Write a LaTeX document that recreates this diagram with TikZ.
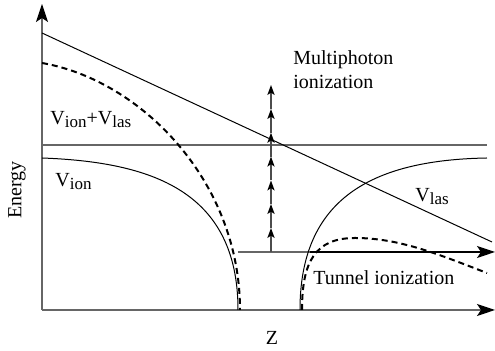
\documentclass[tikz,border=0pt]{standalone}
\usepackage{fontspec}
\setmainfont{Liberation Serif}
\usetikzlibrary{arrows.meta}
\newcommand{\vsub}[1]{\raisebox{-0.3ex}{\fontsize{8.5}{9}\selectfont #1}}

\begin{document}
\begin{tikzpicture}[
    x=0.5pt, y=-0.5pt, >=Stealth, font=\fontsize{10}{12}\selectfont,
    axis/.style={draw=black!60, line width=0.6pt},
    bigtip/.style={-{Stealth[length=9pt,width=6pt,inset=2pt,color=black]}},
    pot/.style={line width=0.5pt},
    total/.style={line width=1pt, dash pattern=on 3pt off 2pt},
    photon/.style={-{Stealth[length=5pt,width=3.6pt,inset=1.2pt,color=black]}, draw=black!70, line width=0.7pt},
    lbl/.style={inner sep=0pt, anchor=base west}
]
\useasboundingbox (0,0) rectangle (495,351);

% Axes
\coordinate (O)    at (42,310);
\coordinate (ytip) at (42,4);
\coordinate (xtip) at (495,310);
\draw[axis, bigtip] (O) -- (ytip);
\draw[axis, bigtip] (O) -- (xtip);

% Ionization threshold and ground level
\coordinate (thL) at (42,145);
\coordinate (thR) at (487,145);
\draw[axis] (thL) -- (thR);
\coordinate (gL) at (238,252);
\coordinate (gM) at (310,252);
\coordinate (gR) at (495,252);
\draw[axis] (gL) -- (gM);
\draw[pot, line width=0.6pt, bigtip] (gM) -- (gR);

% Laser potential
\coordinate (las0) at (42,33);
\coordinate (las1) at (492,242);
\draw[pot] (las0) -- (las1);

% Coulomb potential of the ion
\draw[pot] (42,158) .. controls (150,162) and (238,190) .. (238,310);
\draw[pot] (300,310) .. controls (300,200) and (370,160) .. (487,158);

% Sum of both potentials
\draw[total] (42,63) .. controls (140,80) and (240,180) .. (240,310);
\draw[total] (302,310) .. controls (302,262) and (315,238) .. (355,238)
                       .. controls (400,238) and (440,255) .. (487,273);

% Multiphoton steps
\foreach \a/\b in {252/228, 228/204, 204/180.5, 180.5/156.6, 156.6/132.8, 132.8/109, 109/85}
    \draw[photon] (271,\a) -- (271,\b);

% Labels
\node[lbl] (multi) at (293,65) {Multiphoton};
\node[lbl] (ioniz) at (293,89) {ionization};
\node[lbl] (sum)   at (50,125) {V\vsub{ion}+V\vsub{las}};
\node[lbl] (vion)  at (55,187) {V\vsub{ion}};
\node[lbl] (vlas)  at (415,202) {V\vsub{las}};
\node[lbl] (tunnel) at (313,285) {Tunnel ionization};
\node[rotate=90] (energy) at (17,190) {Energy};
\node[anchor=base] (zlbl) at (272,345) {Z};
\end{tikzpicture}
\end{document}
